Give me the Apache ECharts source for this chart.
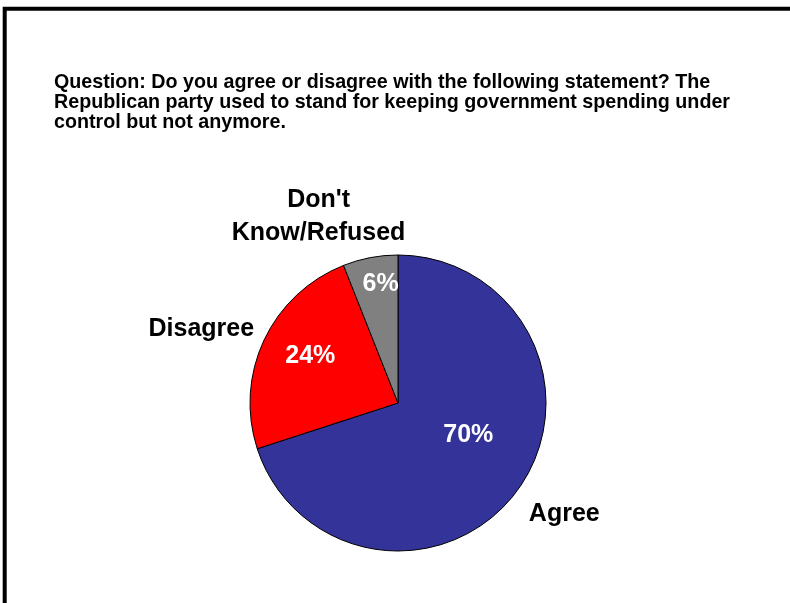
<!DOCTYPE html>
<html>
<head>
<meta charset="utf-8">
<script src="https://cdn.jsdelivr.net/npm/echarts@6/dist/echarts.min.js"></script>
<style>
html,body{margin:0;padding:0;background:#fff;}
#chart{width:790px;height:603px;}
</style>
</head>
<body>
<div id="chart"></div>
<script>
var titleText = "Question: Do you agree or disagree with the following statement? The\nRepublican party used to stand for keeping government spending under\ncontrol but not anymore.";
var categories = ["Agree", "Disagree", "Don't\nKnow/Refused"];
var values = [70, 24, 6];
var colors = ["#333399", "#FF0000", "#808080"];

// label offsets (styling only)
var pctOffsets = [[8, -13], [-18, -14], [-3, -43]];
var nameOffsets = [[104, 66], [-127, -41], [-65, -111]];

var font = "'Liberation Sans', Arial, sans-serif";

var data = categories.map(function (c, i) {
  return { name: c, value: values[i], itemStyle: { color: colors[i] } };
});

var chart = echarts.init(document.getElementById('chart'), null, { renderer: 'canvas' });
chart.setOption({
  animation: false,
  backgroundColor: '#fff',
  title: {
    text: titleText,
    left: 54,
    top: 73,
    padding: 0,
    textStyle: { fontFamily: font, fontSize: 19.7, fontWeight: 'bold', color: '#000', lineHeight: 20 }
  },
  graphic: [{
    type: 'rect',
    shape: { x: 4.7, y: 8.7, width: 900, height: 900 },
    style: { fill: 'none', stroke: '#000', lineWidth: 4 },
    silent: true
  }],
  series: [
    {
      type: 'pie',
      center: [398, 403],
      radius: 148,
      startAngle: 90,
      clockwise: true,
      avoidLabelOverlap: false,
      itemStyle: { borderColor: '#000', borderWidth: 1 },
      label: {
        show: true,
        position: 'inside',
        formatter: function (p) { return p.value + '%'; },
        fontFamily: font, fontSize: 25, fontWeight: 'bold', color: '#fff'
      },
      labelLine: { show: false },
      labelLayout: function (p) {
        var o = pctOffsets[p.dataIndex];
        return { dx: o[0], dy: o[1] };
      },
      emphasis: { disabled: true },
      data: data
    },
    {
      type: 'pie',
      center: [398, 403],
      radius: 148,
      startAngle: 90,
      clockwise: true,
      silent: true,
      avoidLabelOverlap: false,
      itemStyle: { color: 'rgba(0,0,0,0)', borderWidth: 0 },
      label: {
        show: true,
        position: 'inside',
        formatter: '{b}',
        fontFamily: font, fontSize: 25, fontWeight: 'bold', color: '#000',
        lineHeight: 33, align: 'center'
      },
      labelLine: { show: false },
      labelLayout: function (p) {
        var o = nameOffsets[p.dataIndex];
        return { dx: o[0], dy: o[1] };
      },
      emphasis: { disabled: true },
      data: categories.map(function (c, i) {
        return { name: c, value: values[i], itemStyle: { color: 'rgba(0,0,0,0)' } };
      })
    }
  ]
});
</script>
</body>
</html>
